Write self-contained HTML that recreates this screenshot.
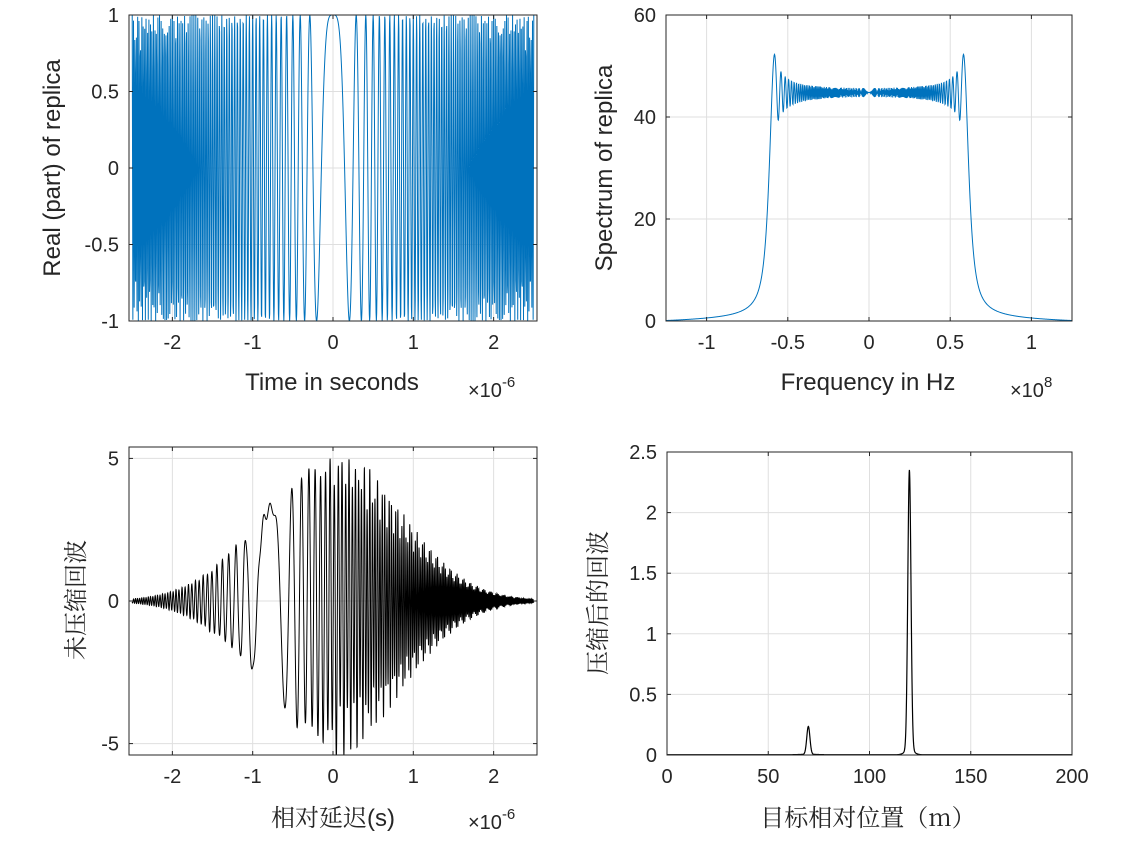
<!DOCTYPE html>
<html><head><meta charset="utf-8">
<style>
html,body{margin:0;padding:0;background:#fff;}
svg{display:block;}
text{font-family:"Liberation Sans",Arial,sans-serif;fill:#262626;}
.cn{font-family:"Noto Serif CJK SC","Liberation Serif",serif;}
</style></head>
<body>
<svg id="s" width="1135" height="859" xmlns="http://www.w3.org/2000/svg"></svg>
<script>
const S=document.getElementById('s');
let out='';
function axes(o){
  const {x0,x1,y0,y1,xmin,xmax,ymin,ymax,xt,yt,id}=o;
  const X=v=>x0+(v-xmin)/(xmax-xmin)*(x1-x0);
  const Y=v=>y1-(v-ymin)/(ymax-ymin)*(y1-y0);
  out+=`<clipPath id="${id}"><rect x="${x0}" y="${y0}" width="${x1-x0}" height="${y1-y0}"/></clipPath>`;
  for(const t of xt){const x=X(t[0]);out+=`<line x1="${x}" x2="${x}" y1="${y0}" y2="${y1}" stroke="#dfdfdf" stroke-width="1"/>`;}
  for(const t of yt){const y=Y(t[0]);out+=`<line x1="${x0}" x2="${x1}" y1="${y}" y2="${y}" stroke="#dfdfdf" stroke-width="1"/>`;}
  o.X=X;o.Y=Y;return o;
}
function finish(o){
  const {x0,x1,y0,y1,xt,yt,X,Y}=o;
  out+=`<rect x="${x0}" y="${y0}" width="${x1-x0}" height="${y1-y0}" fill="none" stroke="#262626" stroke-width="1"/>`;
  for(const t of xt){const x=X(t[0]);
    out+=`<line x1="${x}" x2="${x}" y1="${y1}" y2="${y1-4}" stroke="#262626"/><line x1="${x}" x2="${x}" y1="${y0}" y2="${y0+4}" stroke="#262626"/>`;
    out+=`<text x="${x}" y="${y1+28}" font-size="20" text-anchor="middle">${t[1]}</text>`;}
  for(const t of yt){const y=Y(t[0]);
    out+=`<line x1="${x0}" x2="${x0+4}" y1="${y}" y2="${y}" stroke="#262626"/><line x1="${x1}" x2="${x1-4}" y1="${y}" y2="${y}" stroke="#262626"/>`;
    out+=`<text x="${x0-10}" y="${y+7}" font-size="20" text-anchor="end">${t[1]}</text>`;}
}
function path(o,xs,ys,col,w){
  let d='';for(let i=0;i<xs.length;i++){d+=(i?'L':'M')+o.X(xs[i]).toFixed(2)+' '+o.Y(ys[i]).toFixed(2);}
  out+=`<path d="${d}" fill="none" stroke="${col}" stroke-width="${w}" clip-path="url(#${o.id})"/>`;
}
const k=2.4e13,T=5e-6;
let a=axes({id:'c1',x0:129,x1:537,y0:15,y1:321,xmin:-2.54,xmax:2.54,ymin:-1,ymax:1,
 xt:[[-2,'-2'],[-1,'-1'],[0,'0'],[1,'1'],[2,'2']],yt:[[1,'1'],[0.5,'0.5'],[0,'0'],[-0.5,'-0.5'],[-1,'-1']]});
{let xs=[],ys=[];const N=1250;for(let n=0;n<=N;n++){const t=-T/2+n*T/N;xs.push(t*1e6);ys.push(Math.cos(Math.PI*k*t*t));}
path(a,xs,ys,'#0072BD',1);}
finish(a);
let b=axes({id:'c2',x0:666,x1:1072,y0:15,y1:321,xmin:-1.25,xmax:1.25,ymin:0,ymax:60,
 xt:[[-1,'-1'],[-0.5,'-0.5'],[0,'0'],[0.5,'0.5'],[1,'1']],yt:[[0,'0'],[20,'20'],[40,'40'],[60,'60']]});
{const k2=2.5e13;const N=1250,fs=2.5e8;const re=[],im=[];
for(let n=0;n<N;n++){const t=-T/2+n/fs;const p=Math.PI*k2*t*t;re.push(Math.cos(p));im.push(Math.sin(p));}
let xs=[],mag=[];
for(let m=0;m<N;m++){const f=-fs/2+m*fs/N;let sr=0,si=0;
 for(let n=0;n<N;n++){const t=-T/2+n/fs;const ph=-2*Math.PI*f*t;const c=Math.cos(ph),s=Math.sin(ph);sr+=re[n]*c-im[n]*s;si+=re[n]*s+im[n]*c;}
 xs.push(f/1e8);mag.push(Math.hypot(sr,si));}
const c0=mag[Math.floor(N/2)];const sc=44.8/c0;
path(b,xs,mag.map((v,i)=>Math.max(0,v*sc-0.8*Math.pow(Math.abs(xs[i])/1.25,2))),'#0072BD',1);}
finish(b);
let c=axes({id:'c3',x0:129,x1:537,y0:447,y1:755,xmin:-2.54,xmax:2.54,ymin:-5.4,ymax:5.4,
 xt:[[-2,'-2'],[-1,'-1'],[0,'0'],[1,'1'],[2,'2']],yt:[[5,'5'],[0,'0'],[-5,'-5']]});
{let xs=[],ys=[];const N=4000;for(let n=0;n<=N;n++){const t=-T/2+n*T/N;const tu=t*1e6;
 const env=5.2*Math.exp(-Math.pow((tu+0.05)/1.2,2));
 const t1=t+0.8e-6,t2=t+0.3e-6;
 const v=env*(0.9*Math.cos(Math.PI*k*t1*t1)+0.12*Math.cos(Math.PI*k*t2*t2+1)*(tu>0?1.5:0.5));
 xs.push(tu);ys.push(v);}
path(c,xs,ys,'#000',1);}
finish(c);
let d=axes({id:'c4',x0:667,x1:1072,y0:452,y1:755,xmin:0,xmax:200,ymin:0,ymax:2.5,
 xt:[[0,'0'],[50,'50'],[100,'100'],[150,'150'],[200,'200']],yt:[[0,'0'],[0.5,'0.5'],[1,'1'],[1.5,'1.5'],[2,'2'],[2.5,'2.5']]});
{let xs=[],ys=[];
for(let x=0;x<=200;x+=0.1){xs.push(x);
 const g=(c,s)=>Math.exp(-Math.pow((x-c)/s,2));
 ys.push(2.31*g(119.7,1.1)+0.04*g(119.7,3)+0.23*g(69.8,1.1)+0.004*g(69.8,6)+0.002);}
path(d,xs,ys,'#000',1.2);}
finish(d);
out+=`<text x="332" y="390" font-size="24" text-anchor="middle">Time in seconds</text>`;
out+=`<text x="468" y="397" font-size="20">×10<tspan font-size="15" dy="-10">-6</tspan></text>`;
out+=`<text x="868" y="390" font-size="24" text-anchor="middle">Frequency in Hz</text>`;
out+=`<text x="1010" y="397" font-size="20">×10<tspan font-size="15" dy="-10">8</tspan></text>`;
out+=`<text transform="translate(60,168) rotate(-90)" font-size="24" text-anchor="middle">Real (part) of replica</text>`;
out+=`<text transform="translate(612,168) rotate(-90)" font-size="24" text-anchor="middle">Spectrum of replica</text>`;
out+=`<text class="cn" x="333" y="826" font-size="24" text-anchor="middle">相对延迟<tspan font-family="Liberation Sans">(s)</tspan></text>`;
out+=`<text x="468" y="829" font-size="20">×10<tspan font-size="15" dy="-10">-6</tspan></text>`;
out+=`<text class="cn" x="868" y="826" font-size="24" text-anchor="middle">目标相对位置（m）</text>`;
out+=`<text class="cn" transform="translate(84,600) rotate(-90)" font-size="24" text-anchor="middle">未压缩回波</text>`;
out+=`<text class="cn" transform="translate(606,603) rotate(-90)" font-size="24" text-anchor="middle">压缩后的回波</text>`;
S.innerHTML=out;
</script>
</body></html>
